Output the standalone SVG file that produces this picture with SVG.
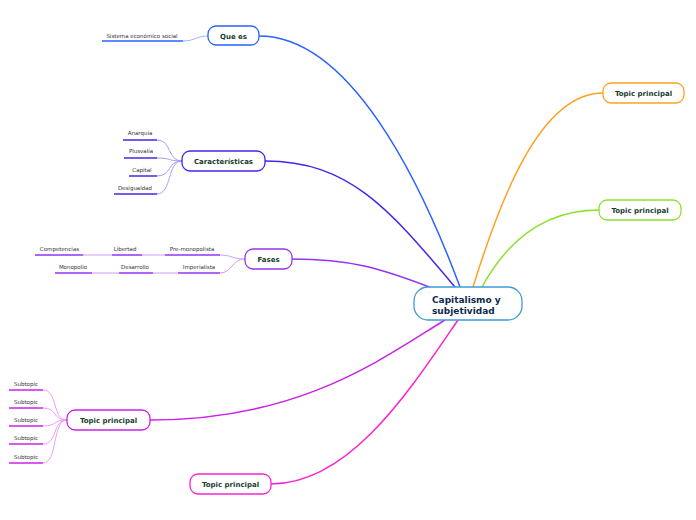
<svg xmlns="http://www.w3.org/2000/svg" width="696" height="520" viewBox="0 0 696 520">
<style>
.node{fill:#fff;stroke-width:1.3}
.nt{font-family:"DejaVu Sans",Verdana,sans-serif;font-weight:bold;font-size:7px;fill:#163d2e;text-anchor:middle}
.ct{font-family:"DejaVu Sans",Verdana,sans-serif;font-weight:bold;font-size:9px;fill:#0e2a4e}
.st{font-family:"DejaVu Sans",Verdana,sans-serif;font-size:5.5px;fill:#333;text-anchor:middle}
.c{fill:none;stroke-width:1.5}
.u{fill:none;stroke-width:1.5}
.l{fill:none;stroke-width:1}
</style>
<rect width="696" height="520" fill="#fff"/>
<g id="connectors">
<path class="c" stroke="#2962ff" d="M259,36 C350,36 420,180 460,287"/>
<path class="c" stroke="#4424f0" d="M265,161 C350,161 390,210 455,287"/>
<path class="c" stroke="#9633f0" d="M292,259 C350,259 380,268 432,288"/>
<path class="c" stroke="#cc22e6" d="M150,420 C300,420 380,360 445,320"/>
<path class="c" stroke="#ff22cc" d="M271,484 C350,484 410,390 458,320"/>
<path class="c" stroke="#ffa020" d="M603,93 C540,93 500,200 473,287"/>
<path class="c" stroke="#8de030" d="M599,210 C540,210 505,245 482,287"/>
<path class="l" stroke="#9db5ff" d="M183,41 C195,41 196,36 208,36"/>
<g stroke="#a99cfa" class="l">
<path d="M157,140 C172,140 167,161 182,161"/>
<path d="M157,158 C172,158 167,161 182,161"/>
<path d="M157,176 C172,176 167,161 182,161"/>
<path d="M157,194 C172,194 167,161 182,161"/>
</g>
<g stroke="#caa0f8" class="l">
<path d="M245,259 C232,259 232,255 220,255"/>
<path d="M245,259 C232,259 232,273 220,273"/>
<path d="M142,255 L165,255"/>
<path d="M83,255 L112,255"/>
<path d="M153,273 L178,273"/>
<path d="M92,273 L119,273"/>
</g>
<g stroke="#eaa0f5" class="l">
<path d="M43,390 C58,390 52,420 67,420"/>
<path d="M43,408 C58,408 52,420 67,420"/>
<path d="M43,426 C58,426 52,420 67,420"/>
<path d="M43,444 C58,444 52,420 67,420"/>
<path d="M43,463 C58,463 52,420 67,420"/>
</g>
</g>
<g id="center">
<rect class="node" x="414" y="287" width="108" height="33" rx="14" stroke="#3d9ad8"/>
<text class="ct" x="432" y="303">Capitalismo y</text>
<text class="ct" x="432" y="314">subjetividad</text>
</g>
<g id="que-es">
<rect class="node" x="208" y="26" width="51" height="19" rx="8" stroke="#2962ff"/>
<text class="nt" x="233.5" y="38.5">Que es</text>
</g>
<g id="sistema">
<path class="u" stroke="#2962ff" d="M102,41 H183"/>
<text class="st" x="142" y="37.5">Sistema económico social</text>
</g>
<g id="caracteristicas">
<rect class="node" x="182" y="151" width="83" height="20" rx="8" stroke="#4424f0"/>
<text class="nt" x="223.5" y="163.5">Características</text>
</g>
<g id="anarquia"><path class="u" stroke="#4424f0" d="M123,140 H157"/><text class="st" x="140" y="135">Anarquía</text></g>
<g id="plusvalia"><path class="u" stroke="#4424f0" d="M124,158 H157"/><text class="st" x="141" y="153">Plusvalía</text></g>
<g id="capital"><path class="u" stroke="#4424f0" d="M129,176 H157"/><text class="st" x="142" y="171.5">Capital</text></g>
<g id="desigualdad"><path class="u" stroke="#4424f0" d="M114,194 H157"/><text class="st" x="135" y="189.5">Desigualdad</text></g>
<g id="fases">
<rect class="node" x="245" y="249" width="47" height="20" rx="8" stroke="#9633f0"/>
<text class="nt" x="268.5" y="261.5">Fases</text>
</g>
<g id="pre-monopolista"><path class="u" stroke="#9633f0" d="M165,255 H220"/><text class="st" x="192" y="250.5">Pre-monopolista</text></g>
<g id="libertad"><path class="u" stroke="#9633f0" d="M112,255 H142"/><text class="st" x="125" y="250.5">Libertad</text></g>
<g id="competencias"><path class="u" stroke="#9633f0" d="M35,255 H83"/><text class="st" x="59.5" y="250.5">Competencias</text></g>
<g id="imperialista"><path class="u" stroke="#9633f0" d="M178,273 H220"/><text class="st" x="199" y="268.5">Imperialista</text></g>
<g id="desarrollo"><path class="u" stroke="#9633f0" d="M119,273 H153"/><text class="st" x="135" y="268.5">Desarrollo</text></g>
<g id="monopolio"><path class="u" stroke="#9633f0" d="M55,273 H92"/><text class="st" x="73" y="268.5">Monopolio</text></g>
<g id="topic-left">
<rect class="node" x="67" y="410" width="83" height="20" rx="8" stroke="#cc22e6"/>
<text class="nt" x="108.5" y="422.5">Topic principal</text>
</g>
<g id="sub1"><path class="u" stroke="#cc22e6" d="M9,390 H43"/><text class="st" x="26" y="386">Subtopic</text></g>
<g id="sub2"><path class="u" stroke="#cc22e6" d="M9,408 H43"/><text class="st" x="26" y="404">Subtopic</text></g>
<g id="sub3"><path class="u" stroke="#cc22e6" d="M9,426 H43"/><text class="st" x="26" y="422">Subtopic</text></g>
<g id="sub4"><path class="u" stroke="#cc22e6" d="M9,444 H43"/><text class="st" x="26" y="440">Subtopic</text></g>
<g id="sub5"><path class="u" stroke="#cc22e6" d="M9,463 H43"/><text class="st" x="26" y="459">Subtopic</text></g>
<g id="topic-bottom">
<rect class="node" x="190" y="474" width="81" height="20" rx="8" stroke="#ff22cc"/>
<text class="nt" x="230.5" y="486.5">Topic principal</text>
</g>
<g id="topic-orange">
<rect class="node" x="603" y="83" width="81" height="20" rx="8" stroke="#ffa020"/>
<text class="nt" x="643.5" y="95.5">Topic principal</text>
</g>
<g id="topic-green">
<rect class="node" x="599" y="200" width="82" height="20" rx="8" stroke="#8de030"/>
<text class="nt" x="640" y="212.5">Topic principal</text>
</g>
</svg>
